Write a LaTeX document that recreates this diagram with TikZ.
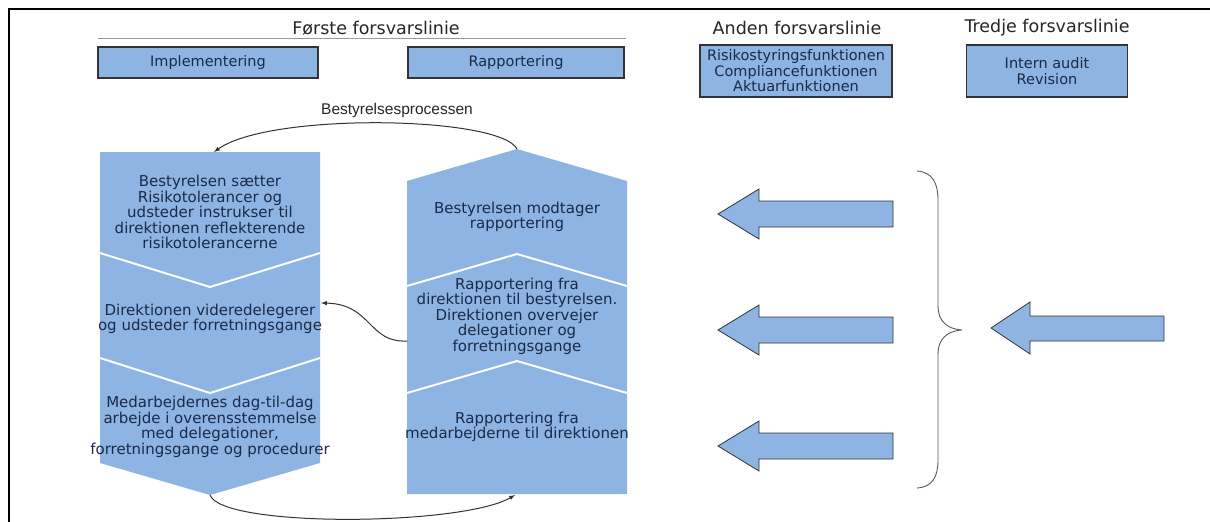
\documentclass[tikz,border=0pt]{standalone}
\usepackage{fontspec}
\setmainfont{DejaVu Sans}
\newfontfamily\arialfont{Liberation Sans}
\usetikzlibrary{positioning}
\definecolor{paleblue}{HTML}{8DB4E2}
\definecolor{navytext}{HTML}{1B2A48}
\definecolor{darkline}{HTML}{333333}

\begin{document}
\begin{tikzpicture}[x=1pt,y=-1pt]
\tikzset{linebox/.style = {draw=darkline, line width=1.2pt, fill=paleblue, text=navytext, align=center, font=\fontsize{14.5}{15.5}\selectfont, inner sep=0pt}}
\tikzset{headline/.style = {text=black!85, font=\fontsize{17.5}{19}\selectfont}}
\tikzset{steptext/.style = {text=navytext, align=center, font=\fontsize{15}{15.5}\selectfont}}
\tikzset{edge/.style = {-latex, line width=1pt, black!80}}
\tikzset{blockarrow/.style = {draw=darkline, fill=paleblue, line width=.8pt}}
\tikzset{seam/.style = {white, line width=2pt}}

   \useasboundingbox (0,0) rectangle (1210,522);
   \draw[line width=2pt] (1210,9) -- (9,9) -- (9,522);

   % headings and boxes
   \node[headline] (first) at (376,28) {Første forsvarslinie};
   \draw[black!40, line width=.8pt] (98,38) -- (626,38);
   \node[linebox, minimum width=220, minimum height=31] (impl) at (208,62.5) {Implementering};
   \node[linebox, minimum width=216, minimum height=31] (rapp) at (516,62.5) {Rapportering};

   \node[headline] (second) at (797,28) {Anden forsvarslinie};
   \node[linebox, minimum width=192, minimum height=52] (funk) at (796,71) {Risikostyringsfunktionen\\Compliancefunktionen\\Aktuarfunktionen};

   \node[headline] (third) at (1047,28) {Tredje forsvarslinie};
   \node[linebox, minimum width=161, minimum height=52] (audit) at (1047,71) {Intern audit\\Revision};

   \node[text=black!85, font=\arialfont\fontsize{15.5}{17}\selectfont] (board) at (397,110) {Bestyrelsesprocessen};

   % left column
   \fill[paleblue] (100,152) -- (320,152) -- (320,463) -- (210,495) -- (100,463) -- cycle;
   \draw[seam] (100,253) -- (210,287) -- (320,253);
   \draw[seam] (100,358) -- (210,393) -- (320,358);
   \coordinate (ltop) at (214,152);
   \coordinate (lside) at (321,303);
   \coordinate (lbottom) at (210,495);

   \node[steptext] (l1) at (210,212) {Bestyrelsen sætter\\Risikotolerancer og\\udsteder instrukser til\\direktionen reflekterende\\risikotolerancerne};
   \node[steptext] (l2) at (210,319) {Direktionen videredelegerer\\og udsteder forretningsgange};
   \node[steptext] (l3) at (210,427) {Medarbejdernes dag-til-dag\\arbejde i overensstemmelse\\med delegationer,\\forretningsgange og procedurer};

   % right column
   \fill[paleblue] (407,181) -- (517,149) -- (627,181) -- (627,494) -- (407,494) -- cycle;
   \draw[seam] (407,286) -- (517,254) -- (627,286);
   \draw[seam] (407,393) -- (517,361) -- (627,393);
   \coordinate (rtop) at (517,149);
   \coordinate (rside) at (407,341);
   \coordinate (rbottom) at (515,495);

   \node[steptext] (r1) at (517,217) {Bestyrelsen modtager\\rapportering};
   \node[steptext] (r2) at (517,316) {Rapportering fra\\direktionen til bestyrelsen.\\Direktionen overvejer\\delegationer og\\forretningsgange};
   \node[steptext] (r3) at (517,427) {Rapportering fra\\medarbejderne til direktionen};

   % process loop
   \draw[edge] (rtop) .. controls (500,116) and (270,112) .. (ltop);
   \draw[edge] (rside) .. controls (368,343) and (372,304) .. (lside);
   \draw[edge] (lbottom) .. controls (222,528) and (462,526) .. (rbottom);

   % block arrows
   \foreach \y in {214,330,446}
     {\draw[blockarrow] (718,\y) -- (759,\y-25) -- (759,\y-13) -- (893,\y-13) -- (893,\y+13) -- (759,\y+13) -- (759,\y+25) -- cycle;}
   \draw[blockarrow] (991,328) -- (1030,302) -- (1030,316) -- (1164,316) -- (1164,341) -- (1030,341) -- (1030,354) -- cycle;

   % brace
   \draw[black!65, line width=.9pt] (917,171) .. controls (933,172) and (938,184) .. (938,200) -- (938,306)
        .. controls (938,320) and (946,329) .. (962,330)
        .. controls (946,331) and (938,340) .. (938,354) -- (938,460)
        .. controls (938,476) and (933,487) .. (917,488);

\end{tikzpicture}
\end{document}
